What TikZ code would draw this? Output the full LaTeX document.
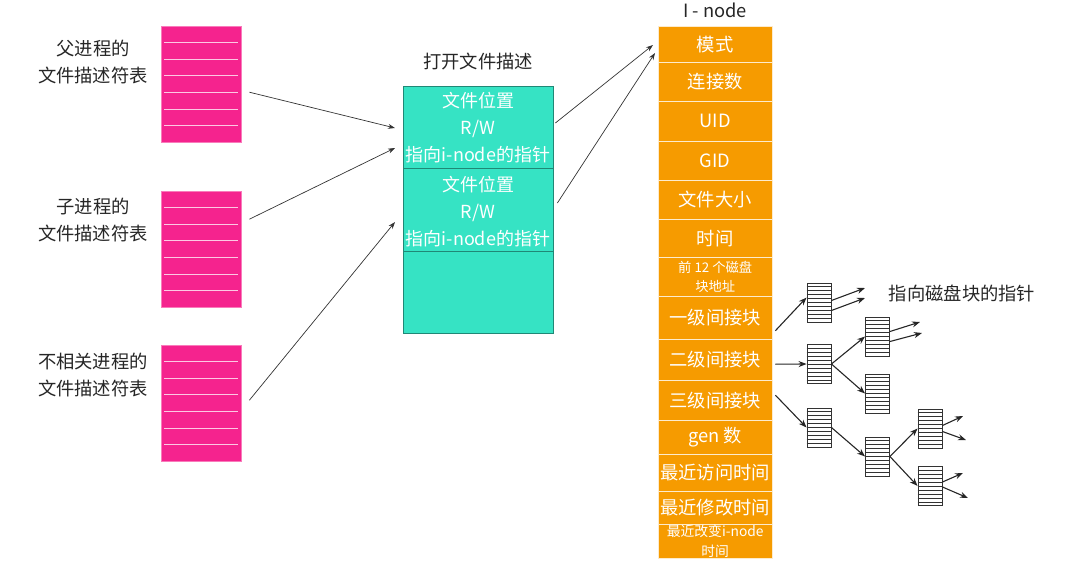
\documentclass[tikz,border=0pt]{standalone}
\usepackage{fontspec}
\setmainfont{Noto Sans CJK SC}
\usetikzlibrary{positioning,calc,arrows.meta}
\definecolor{fdpink}{HTML}{F5238E}
\definecolor{ofgreen}{HTML}{36E3C4}
\definecolor{inorange}{HTML}{F69B00}
\definecolor{linegray}{HTML}{333333}

\tikzset{
  fdtab/.style={fill=fdpink, draw=fdpink!60, minimum width=80pt, minimum height=116pt, inner sep=0pt, anchor=north west},
  lbl/.style={font=\fontsize{18.3}{27}\selectfont, align=center, text=black!85},
  wtxt/.style={text=white, font=\fontsize{18}{27}\selectfont, align=center},
  ptr/.style={-{Stealth[length=7pt,width=5pt]}, draw=linegray, line width=0.7pt},
  bptr/.style={-{Stealth[length=8pt,width=6pt]}, draw=black!85, line width=1.1pt},
  blk/.style={draw=black!80, fill=white, minimum width=24pt, minimum height=39pt, inner sep=0pt, line width=0.9pt},
  irow/.style={fill=inorange, draw=inorange!20, minimum width=114pt, inner sep=0pt, anchor=north west, text=white, align=center},
}

\begin{document}
\begin{tikzpicture}[x=1pt,y=-1pt]
\useasboundingbox (0,0) rectangle (1080,575);

% file descriptor tables
\node[fdtab] (tab1) at (161,26) {};
\node[fdtab] (tab2) at (161,191) {};
\node[fdtab] (tab3) at (161,345) {};
\foreach \t in {tab1,tab2,tab3}
  \foreach \k in {1,...,6}
    \draw[white!75!fdpink, line width=1pt] ($(\t.north west)!\k/7!(\t.south west)+(3,0)$) -- ($(\t.north east)!\k/7!(\t.south east)+(-3,0)$);
\node[lbl] (lbl1) at (93,62) {父进程的\\文件描述符表};
\node[lbl] (lbl2) at (93,220) {子进程的\\文件描述符表};
\node[lbl] (lbl3) at (93,375) {不相关进程的\\文件描述符表};

% open file description
\node[lbl] (oftitle) at (478,62) {打开文件描述};
\node[draw=ofgreen!60!black, fill=ofgreen, minimum width=150pt, minimum height=247pt, inner sep=0pt, anchor=north west] (ofd) at (403,86) {};
\draw[ofgreen!60!black] (403,168) -- (553,168);
\draw[ofgreen!60!black] (403,251) -- (553,251);
\node[wtxt] (ent1) at (478,128) {文件位置\\R/W\\指向i-node的指针};
\node[wtxt] (ent2) at (478,212) {文件位置\\R/W\\指向i-node的指针};

\draw[ptr] ([xshift=8pt,yshift=-8pt]tab1.east) -- ([xshift=-8pt,yshift=-42pt]ofd.north west);
\draw[ptr] ([xshift=8pt,yshift=30pt]tab2.east) -- ([xshift=-8pt,yshift=-62pt]ofd.north west);
\draw[ptr] ([xshift=8pt,yshift=3pt]tab3.east) -- ([xshift=-8pt,yshift=-136pt]ofd.north west);

% i-node
\node[lbl] (intitle) at (715,10) {I - node};
\foreach \t/\b/\nm/\fs/\ld/\txt in {
  26/62/mode/18.3/22/{模式}, 62/101/links/18.3/22/{连接数}, 101/141/uid/18.3/22/{UID},
  141/180/gid/18.3/22/{GID}, 180/219/size/18.3/22/{文件大小}, 219/257/time/18.3/22/{时间},
  257/296/addr/13.3/19/{前 12 个磁盘\\块地址}, 296/339/l1/18.3/22/{一级间接块},
  339/380/l2/18.3/22/{二级间接块}, 380/420/l3/18.3/22/{三级间接块},
  420/454/gen/18.3/22/{gen 数}, 454/491/atime/18.3/22/{最近访问时间},
  491/524/mtime/18.3/22/{最近修改时间}, 524/558/ctime/13.8/20/{最近改变i-node\\时间}}
  \node[irow, minimum height={(\b-\t)*1pt}, font=\fontsize{\fs}{\ld}\selectfont] (in-\nm) at (658,\t) {\txt};

\draw[ptr] ([xshift=2pt,yshift=-37pt]ofd.north east) -- ([xshift=-5pt,yshift=-19pt]in-mode.north west);
\draw[ptr] ([xshift=4pt,yshift=-117pt]ofd.north east) -- ([xshift=-3pt,yshift=-27pt]in-mode.north west);

% indirect blocks
\node[blk] (blkA) at (819,302.5) {};
\node[blk] (blkB) at (819,364) {};
\node[blk] (blkC) at (819,427.5) {};
\node[blk] (blkD) at (877.5,336.5) {};
\node[blk] (blkE) at (877.5,393.5) {};
\node[blk] (blkF) at (877.5,456.5) {};
\node[blk] (blkG) at (930,428.5) {};
\node[blk] (blkH) at (930,486) {};
\foreach \b in {blkA,blkB,blkC,blkD,blkE,blkF,blkG,blkH}
  \foreach \k in {1,...,9}
    \draw[black!80, line width=0.9pt] ($(\b.north west)!\k/10!(\b.south west)$) -- ($(\b.north east)!\k/10!(\b.south east)$);
\node[lbl] (blklbl) at (962,293) {指向磁盘块的指针};

\coordinate (a1) at (865,288);
\coordinate (a2) at (865,298);
\coordinate (d1) at (920,322);
\coordinate (d2) at (922,333);
\coordinate (g1) at (963,416);
\coordinate (g2) at (966,440);
\coordinate (h1) at (963,473);
\coordinate (h2) at (968,498);

\draw[bptr] ([xshift=3pt,yshift=-13pt]in-l1.east) -- ([yshift=5pt]blkA.west);
\draw[bptr] ([xshift=3pt,yshift=-4.5pt]in-l2.east) -- (blkB.west);
\draw[bptr] ([xshift=3pt,yshift=5pt]in-l3.east) -- (blkC.west);
\draw[bptr] ([yshift=2pt]blkA.east) -- (a1);
\draw[bptr] ([yshift=-8pt]blkA.east) -- (a2);
\draw[bptr] (blkB.east) -- (blkD.west);
\draw[bptr] (blkB.east) -- (blkE.west);
\draw[bptr] ([yshift=5pt]blkD.east) -- (d1);
\draw[bptr] ([yshift=-5pt]blkD.east) -- (d2);
\draw[bptr] (blkC.east) -- (blkF.west);
\draw[bptr] (blkF.east) -- (blkG.west);
\draw[bptr] (blkF.east) -- (blkH.west);
\draw[bptr] ([yshift=3pt]blkG.east) -- (g1);
\draw[bptr] ([yshift=-3pt]blkG.east) -- (g2);
\draw[bptr] ([yshift=4pt]blkH.east) -- (h1);
\draw[bptr] ([yshift=-1pt]blkH.east) -- (h2);
\end{tikzpicture}
\end{document}
